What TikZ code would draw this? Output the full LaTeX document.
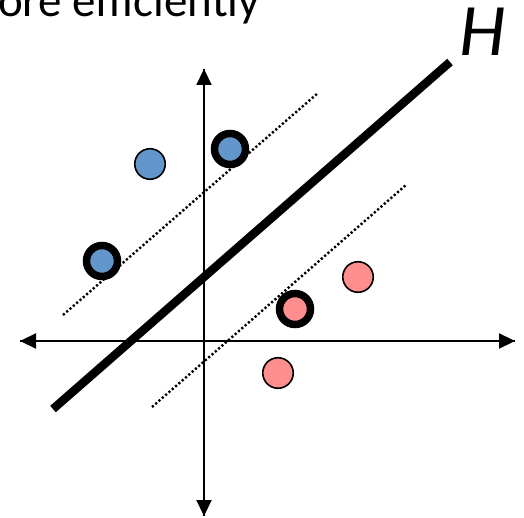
\documentclass[tikz,border=0pt]{standalone}
\usepackage{fontspec}
\setmainfont{Carlito}
\usetikzlibrary{arrows.meta}
\definecolor{ptblue}{HTML}{6397CC}
\definecolor{ptpink}{HTML}{FF8F8F}
\tikzset{
  axis/.style={line width=2.2pt,-{Triangle[length=16pt,width=15pt]}},
  margin/.style={line width=2.4pt,dash pattern=on 2.2pt off 2.2pt},
  hyper/.style={line width=8.5pt},
  plainpt/.style={circle,draw,line width=1.6pt,minimum size=30.5pt,inner sep=0pt},
  supportpt/.style={circle,draw,line width=7.5pt,minimum size=31pt,inner sep=0pt},
}
\begin{document}
\begin{tikzpicture}[x=1pt,y=-1pt]
\useasboundingbox (0,0) rectangle (524,518);
% axes
\coordinate (yb) at (204,516);
\coordinate (yt) at (204,69);
\coordinate (xl) at (20,341);
\coordinate (xr) at (515,341);
\draw[axis] (yb) -- (yt);
\draw[axis] (yt) -- (yb);
\draw[axis] (xl) -- (xr);
\draw[axis] (xr) -- (xl);
% margins
\coordinate (m1a) at (63,315);
\coordinate (m1b) at (318,93);
\coordinate (m2a) at (152,407);
\coordinate (m2b) at (406,185);
\draw[margin] (m1a) -- (m1b);
\draw[margin] (m2a) -- (m2b);
% hyperplane
\coordinate (ha) at (53,409);
\coordinate (hb) at (450,62);
\draw[hyper] (ha) -- (hb);
% points
\node[plainpt,fill=ptblue] (b1) at (150,164) {};
\node[supportpt,fill=ptblue] (b2) at (230,149) {};
\node[supportpt,fill=ptblue] (b3) at (102,261) {};
\node[plainpt,fill=ptpink] (p1) at (358,277) {};
\node[supportpt,fill=ptpink] (p2) at (295,309) {};
\node[plainpt,fill=ptpink] (p3) at (278,373) {};
% labels
\node[anchor=base west,inner sep=0pt,font=\itshape\fontsize{74}{80}\selectfont] (H) at (459,56) {H};
\node[anchor=base east,inner sep=0pt,font=\fontsize{47}{50}\selectfont] (title) at (260,17) {more efficiently};
\end{tikzpicture}
\end{document}
